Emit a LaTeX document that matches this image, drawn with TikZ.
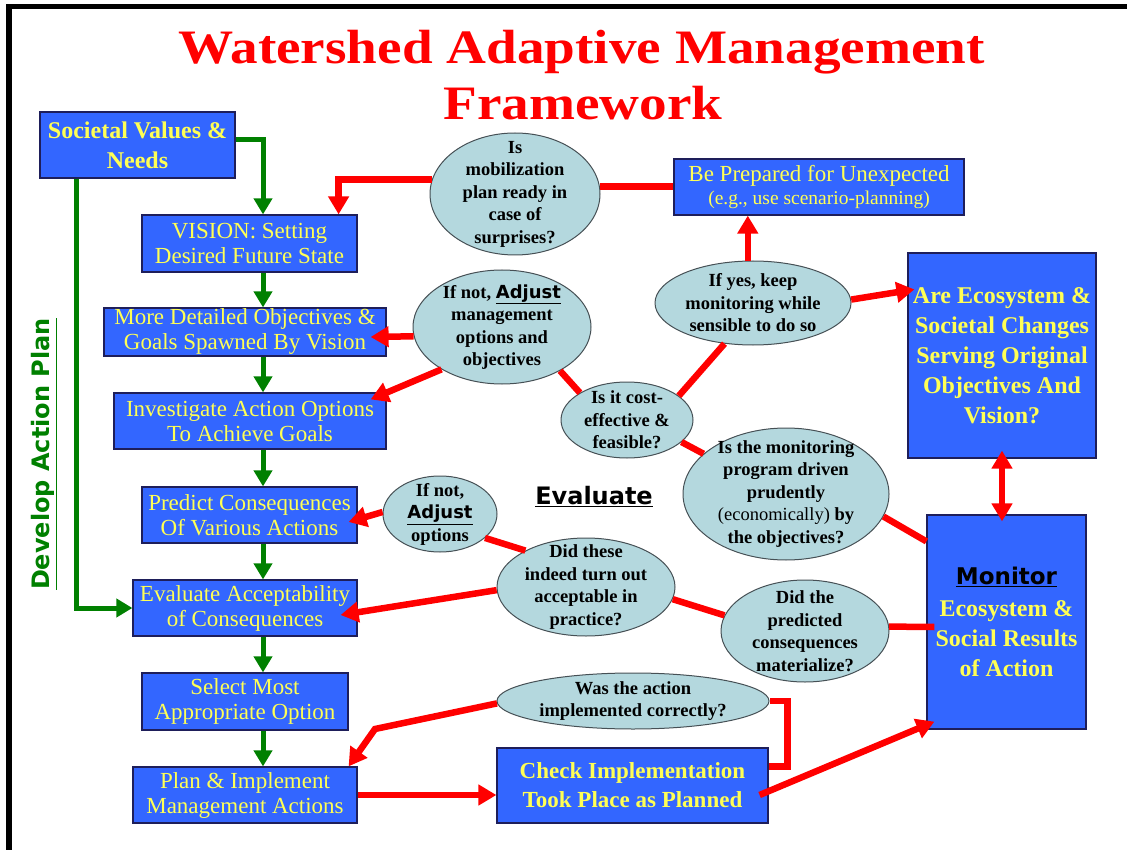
\documentclass[tikz,border=0pt]{standalone}
\usepackage{fontspec}
\setmainfont{Liberation Serif}
\newfontfamily\heavysans{DejaVu Sans}
\newcommand\hsans{\heavysans\bfseries}
\usetikzlibrary{arrows.meta,shapes.geometric}

\definecolor{boxblue}{RGB}{51,102,255}
\definecolor{boxedge}{RGB}{30,30,90}
\definecolor{boxtext}{RGB}{255,255,85}
\definecolor{qfill}{RGB}{180,216,222}
\definecolor{qedge}{RGB}{70,80,85}
\definecolor{flowred}{RGB}{255,0,0}
\definecolor{flowgreen}{RGB}{0,128,0}

\tikzset{
  stepbox/.style={draw=boxedge, line width=1.2pt, fill=boxblue, text=boxtext,
    inner sep=0pt, align=center, font=\fontsize{23}{25}\selectfont},
  boldbox/.style={stepbox, font=\bfseries\fontsize{24}{30}\selectfont},
  qell/.style={ellipse, draw=qedge, line width=1pt, fill=qfill, inner sep=0pt},
  qtext/.style={align=center, text=black, inner sep=0pt,
    font=\bfseries\fontsize{18.5}{22.5}\selectfont},
  redline/.style={draw=flowred, line width=6.5pt},
  redarrow/.style={redline, -{Triangle[length=18pt,width=20pt]}},
  redboth/.style={redline, {Triangle[length=18pt,width=20pt]}-{Triangle[length=18pt,width=20pt]}},
  greenarrow/.style={draw=flowgreen, line width=5pt, -{Triangle[length=16pt,width=18pt]}},
  titletext/.style={text=flowred, inner sep=0pt, font=\bfseries\fontsize{48}{56}\selectfont},
  headsans/.style={inner sep=0pt, font=\hsans\fontsize{24}{28}\selectfont}
}

\begin{document}
\begin{tikzpicture}[x=1pt, y=-1pt]
\useasboundingbox (0,0) rectangle (1127,850);

% page frame (top and left bars)
\fill[black] (6,4) rectangle (1127,9);
\fill[black] (6,4) rectangle (12,850);

% title
\node[titletext, anchor=base] (title1) at (581.5,64) {\scalebox{1.15}[1]{Watershed Adaptive Management}};
\node[titletext, anchor=base] (title2) at (583,120) {\scalebox{1.15}[1]{Framework}};

% planning column
\node[boldbox, minimum width=195pt, minimum height=66pt] (soc) at (137.5,145) {Societal Values \&\\Needs};
\node[stepbox, minimum width=215pt, minimum height=57pt] (vis) at (249.5,243.5) {VISION: Setting\\Desired Future State};
\node[stepbox, minimum width=282pt, minimum height=48pt] (obj) at (245,332) {More Detailed Objectives \&\\Goals Spawned By Vision};
\node[stepbox, minimum width=272pt, minimum height=56pt] (inv) at (250,421) {Investigate Action Options\\To Achieve Goals};
\node[stepbox, minimum width=215pt, minimum height=56pt] (pre) at (249.5,515) {Predict Consequences\\Of Various Actions};
\node[stepbox, minimum width=224pt, minimum height=56pt] (eva) at (245,608) {Evaluate Acceptability\\of Consequences};
\node[stepbox, minimum width=206pt, minimum height=57pt] (sel) at (245,701.5) {Select Most\\Appropriate Option};
\node[stepbox, minimum width=224pt, minimum height=56pt] (pla) at (245,795) {Plan \& Implement\\Management Actions};

% right-hand boxes
\node[stepbox, minimum width=290pt, minimum height=56pt] (bep) at (819,187) {Be Prepared for Unexpected\\[-2pt]{\fontsize{19.5}{22}\selectfont (e.g., use scenario-planning)}};
\node[boldbox, minimum width=188pt, minimum height=205pt] (are) at (1002,355.5) {Are Ecosystem \&\\Societal Changes\\Serving Original\\Objectives And\\Vision?};
\node[boldbox, minimum width=159pt, minimum height=214pt] (mon) at (1006.5,622) {{\hsans\fontsize{23}{28}\selectfont\color{black}\underline{Monitor}}\\[2pt]Ecosystem \&\\Social Results\\of Action};
\node[boldbox, minimum width=271pt, minimum height=75pt, font=\bfseries\fontsize{23}{29}\selectfont] (chk) at (632.5,785.5) {Check Implementation\\Took Place as Planned};

% question ellipses
\node[qell, minimum width=170pt, minimum height=122pt] (mob) at (515,194) {};
\node[qell, minimum width=178pt, minimum height=114pt] (adj1) at (502,327) {};
\node[qell, minimum width=132pt, minimum height=76pt] (cost) at (627,420) {};
\node[qell, minimum width=196pt, minimum height=84pt] (yes) at (753,303) {};
\node[qell, minimum width=206pt, minimum height=132pt] (prud) at (786,494) {};
\node[qell, minimum width=168pt, minimum height=102pt] (pred) at (805,631) {};
\node[qell, minimum width=114pt, minimum height=76pt] (adj2) at (440,514) {};
\node[qell, minimum width=178pt, minimum height=98pt] (acc) at (586,587) {};
\node[qell, minimum width=272pt, minimum height=56pt] (impl) at (633,701) {};

\node[qtext] (mobt) at (mob) {Is\\mobilization\\plan ready in\\case of\\surprises?};
\node[qtext] (adj1t) at (adj1) {If not, {\hsans\fontsize{18}{22}\selectfont\underline{Adjust}}\\management\\options and\\objectives};
\node[qtext] (costt) at (cost) {Is it cost-\\effective \&\\feasible?};
\node[qtext] (yest) at (yes) {If yes, keep\\monitoring while\\sensible to do so};
\node[qtext] (prudt) at (prud) {Is the monitoring\\program driven\\prudently\\{\mdseries (economically)} by\\the objectives?};
\node[qtext] (predt) at (pred) {Did the\\predicted\\consequences\\materialize?};
\node[qtext] (adj2t) at (adj2) {If not,\\{\hsans\fontsize{18}{22}\selectfont\underline{Adjust}}\\options};
\node[qtext] (acct) at (acc) {Did these\\indeed turn out\\acceptable in\\practice?};
\node[qtext] (implt) at (impl) {Was the action\\implemented correctly?};

% side headings
\node[headsans, text=flowgreen, rotate=90] (dev) at (44,454) {\underline{Develop Action Plan}};
\node[headsans, text=black] (evl) at (594,497) {\underline{Evaluate}};

% green planning flow
\coordinate (gx) at (263,0);
\coordinate (gl) at (76,0);
\draw[greenarrow] ([shift={(0,-5)}]soc.east) -| (vis.north -| gx);
\draw[greenarrow] (vis.south -| gx) -- (obj.north -| gx);
\draw[greenarrow] (obj.south -| gx) -- (inv.north -| gx);
\draw[greenarrow] (inv.south -| gx) -- (pre.north -| gx);
\draw[greenarrow] (pre.south -| gx) -- (eva.north -| gx);
\draw[greenarrow] (eva.south -| gx) -- (sel.north -| gx);
\draw[greenarrow] (sel.south -| gx) -- (pla.north -| gx);
\draw[greenarrow] (soc.south -| gl) |- (eva.west);

% red feedback links
\coordinate (bend) at (375,729);
\draw[redarrow] (mob.170) -| ([shift={(-19,0)}]vis.north east);
\draw[redline] (mob.5) -- (mob.5 -| bep.west);
\draw[redarrow] (yes.97) -- (yes.97 |- bep.south);
\draw[redarrow] (yes.2) -- ([shift={(7,37)}]are.north west);
\draw[redline] (cost.25) -- (yes.235);
\draw[redline] (adj1.-37) -- (cost.150);
\draw[redarrow] (adj1.186) -- ([shift={(-16,5)}]obj.east);
\draw[redarrow] (adj1.215) -- ([shift={(-16,7)}]inv.north east);
\draw[redline] (cost.-22) -- (prud.154);
\draw[redline] (prud.-13) -- ([shift={(0,27)}]mon.north west);
\draw[redline] (pred.3) -- ([shift={(8,5)}]mon.west);
\draw[redline] (acc.-8) -- (pred.169);
\draw[redarrow] (acc.182) -- ([shift={(-17,7)}]eva.east);
\draw[redarrow] (adj2.178) -- ([shift={(-9,7)}]pre.east);
\draw[redline] (adj2.-28) -- (acc.149);
\draw[redarrow] (impl.181) -- (bend) -- ([shift={(-9,0)}]pla.north east);
\draw[redarrow] (pla.east) -- (pla.east -| chk.west);
\draw[redline] ([shift={(0,19)}]chk.north east) -- ++(19,0) |- (impl.east);
\draw[redarrow] ([shift={(-9,9.5)}]chk.east) -- ([shift={(8,-8)}]mon.south west);
\draw[redboth] ([shift={(0,-8)}]are.south) -- ([shift={(-4.5,7)}]mon.north);
\end{tikzpicture}
\end{document}
